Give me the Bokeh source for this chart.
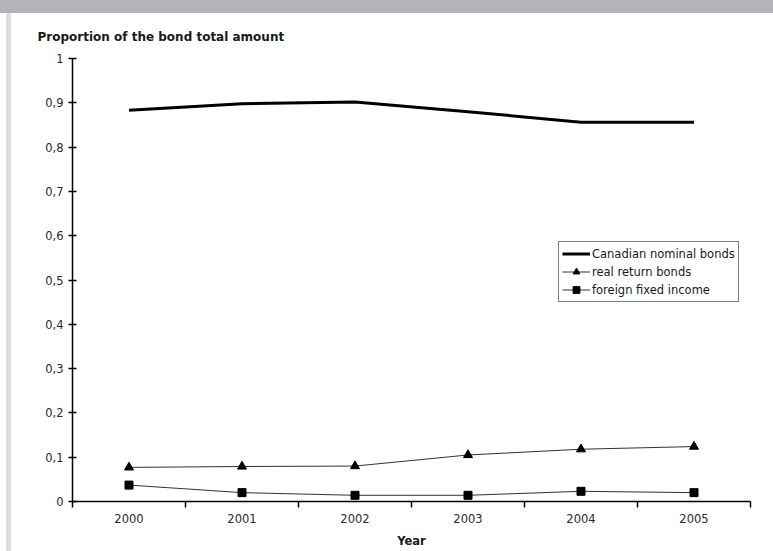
from bokeh.plotting import figure
from bokeh.models import FixedTicker, Div, Legend, LegendItem
from bokeh.layouts import column, row
from bokeh.embed import file_html
from bokeh.resources import INLINE

years = ["2000", "2001", "2002", "2003", "2004", "2005"]
canadian_nominal = [0.883, 0.898, 0.902, 0.880, 0.856, 0.856]
real_return = [0.077, 0.079, 0.080, 0.105, 0.118, 0.124]
foreign_fixed = [0.037, 0.020, 0.014, 0.014, 0.023, 0.020]
y_ticks = [0.0, 0.1, 0.2, 0.3, 0.4, 0.5, 0.6, 0.7, 0.8, 0.9, 1.0]
y_tick_labels = ["0", "0,1", "0,2", "0,3", "0,4", "0,5", "0,6", "0,7", "0,8", "0,9", "1"]

# each year sits in the middle of its own slot on a numeric axis
xs = [i + 0.5 for i in range(len(years))]
bounds = list(range(len(years) + 1))

FONT = "DejaVu Sans"

p = figure(width=762, height=538, output_backend="svg", toolbar_location=None,
           x_range=(0, len(years)), y_range=(0, 1),
           min_border_left=61, min_border_right=23, min_border_top=44,
           min_border_bottom=50, margin=0)
p.outline_line_color = None
p.xgrid.visible = False
p.ygrid.visible = False
p.background_fill_color = "white"
p.border_fill_color = "white"

p.title.text = "Proportion of the bond total amount"
p.title.align = "left"
p.title.offset = -35
p.title.standoff = 29
p.title.text_font = FONT
p.title.text_font_size = "12px"
p.title.text_font_style = "bold"
p.title.text_color = "#1a1a1a"

# x axis: labels at slot centres, tick marks at slot boundaries
p.xaxis.ticker = FixedTicker(ticks=xs, minor_ticks=bounds)
p.xaxis.major_label_overrides = {x: y for x, y in zip(xs, years)}
p.xaxis.major_tick_in = 0
p.xaxis.major_tick_out = 0
p.xaxis.minor_tick_in = 0
p.xaxis.minor_tick_out = 6
p.xaxis.minor_tick_line_color = "black"
p.xaxis.minor_tick_line_width = 1.5
p.xaxis.axis_line_width = 1.5
p.xaxis.major_label_standoff = 6
p.xaxis.axis_label = "Year"
p.xaxis.axis_label_standoff = 8
p.xaxis.axis_label_text_font = FONT
p.xaxis.axis_label_text_font_size = "11.5px"
p.xaxis.axis_label_text_font_style = "bold"
p.xaxis.axis_label_text_color = "#1a1a1a"

p.yaxis.ticker = FixedTicker(ticks=y_ticks, minor_ticks=[])
p.yaxis.major_label_overrides = {t: s for t, s in zip(y_ticks, y_tick_labels)}
p.yaxis.major_tick_in = 4
p.yaxis.major_tick_out = 4
p.yaxis.major_tick_line_width = 1.5
p.yaxis.axis_line_width = 1.5
p.yaxis.major_label_standoff = 5

for ax in (p.xaxis, p.yaxis):
    ax.major_label_text_font = FONT
    ax.major_label_text_font_size = "11.5px"
    ax.major_label_text_color = "#2a2a2a"
    ax.axis_line_color = "black"
    ax.major_tick_line_color = "black"

r_nom = p.line(xs, canadian_nominal, line_color="black", line_width=3)

r_real_l = p.line(xs, real_return, line_color="#333333", line_width=1)
r_real_m = p.scatter(xs, real_return, marker="triangle", size=9,
                     fill_color="black", line_color="black")

r_for_l = p.line(xs, foreign_fixed, line_color="#333333", line_width=1)
r_for_m = p.scatter(xs, foreign_fixed, marker="square", size=8,
                    fill_color="black", line_color="black")

legend = Legend(items=[
    LegendItem(label="Canadian nominal bonds", renderers=[r_nom]),
    LegendItem(label="real return bonds", renderers=[r_real_l, r_real_m]),
    LegendItem(label="foreign fixed income", renderers=[r_for_l, r_for_m]),
], location=(486, 199))
legend.border_line_color = "black"
legend.border_line_width = 1.5
legend.background_fill_alpha = 1
legend.padding = 3
legend.spacing = 1
legend.margin = 0
legend.glyph_width = 28
legend.glyph_height = 17
legend.label_height = 17
legend.label_standoff = 2
legend.label_text_font = FONT
legend.label_text_font_size = "11.5px"
legend.label_text_color = "#1a1a1a"
p.add_layout(legend)

band = Div(width=773, height=13, margin=0, styles={"background": "#b2b4b7"})
strip = Div(width=11, height=538, margin=0,
            styles={"background": "linear-gradient(to right, #ffffff 6px, #dcdddf 6px)"})
layout = column(band, row(strip, p, spacing=0, margin=0), spacing=0, margin=0)

open("out.html", "w").write(file_html(layout, INLINE))
